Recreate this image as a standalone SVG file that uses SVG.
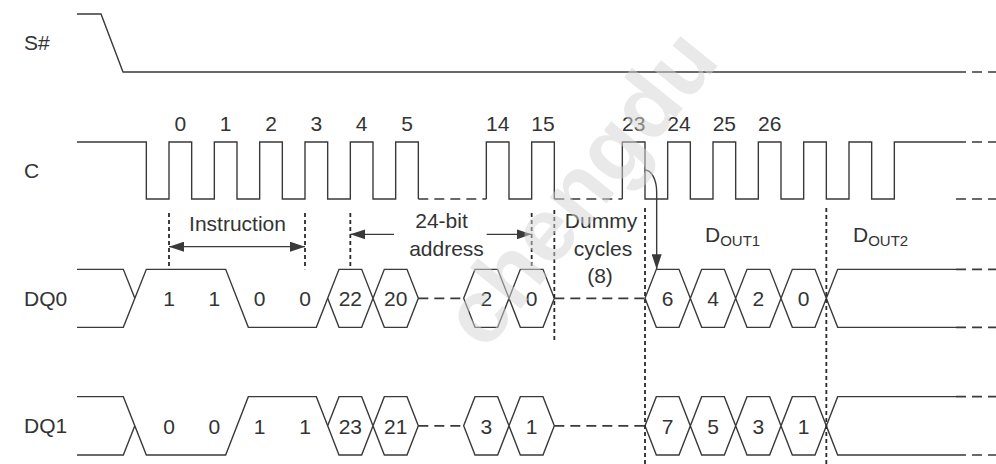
<svg xmlns="http://www.w3.org/2000/svg" width="996" height="464" viewBox="0 0 996 464">
<style>
.sig{fill:none;stroke:#3a3a3a;stroke-width:1.4;stroke-linejoin:miter}
.dsh{fill:none;stroke:#3a3a3a;stroke-width:1.6;stroke-dasharray:10 6}
.vd{fill:none;stroke:#2a2a2a;stroke-width:1.8;stroke-dasharray:4 3}
.arr{fill:none;stroke:#3a3a3a;stroke-width:1.4}
text{font-family:"Liberation Sans",Arial,sans-serif;font-size:21px;fill:#333}
.c{text-anchor:middle}
.sub{font-size:15px}
.wm{font-family:"Liberation Sans",Arial,sans-serif;font-weight:bold;font-size:90px;fill:#d4d4d4;fill-opacity:0.5;text-anchor:middle}
</style>
<defs>
<marker id="ah" viewBox="0 0 15 10" refX="15" refY="5" markerWidth="15" markerHeight="10" markerUnits="userSpaceOnUse" orient="auto-start-reverse">
<path d="M0,0 L15,5 L0,10 z" fill="#3a3a3a"/>
</marker>
</defs>

<g id="labels">
<text x="24" y="50">S#</text>
<text x="24" y="178">C</text>
<text x="24" y="305.5">DQ0</text>
<text x="24" y="433">DQ1</text>
</g>

<g id="S">
<path class="sig" d="M77,14 H101 L123,72 H956"/>
<path class="dsh" d="M956,72 H996"/>
</g>

<g id="C">
<path class="sig" d="M77,142 H146.33 V199 H169 V142 H191.67 V199 H214.33 V142 H237 V199 H259.67 V142 H282.33 V199 H305 V142 H327.67 V199 H350.33 V142 H373 V199 H395.67 V142 H418.33 V199"/>
<path class="dsh" d="M418.33,199 H486.33"/>
<path class="sig" d="M486.33,199 V142 H509 V199 H531.67 V142 H554.33 V199"/>
<path class="dsh" d="M554.33,199 H622.33"/>
<path class="sig" d="M622.33,199 V142 H645 V199 H667.67 V142 H690.33 V199 H713 V142 H735.67 V199 H758.33 V142 H781 V199 H803.67 V142 H826.33 V199 H849 V142 H871.67 V199 H894.33 V142 H956"/>
<path class="dsh" d="M956,142 H996 M956,199 H996"/>
<g class="c">
<text x="180.33" y="130.5">0</text>
<text x="225.67" y="130.5">1</text>
<text x="271" y="130.5">2</text>
<text x="316.33" y="130.5">3</text>
<text x="361.67" y="130.5">4</text>
<text x="407" y="130.5">5</text>
<text x="497.67" y="130.5">14</text>
<text x="543" y="130.5">15</text>
<text x="633.67" y="130.5">23</text>
<text x="679" y="130.5">24</text>
<text x="724.33" y="130.5">25</text>
<text x="769.67" y="130.5">26</text>
</g>
</g>

<g id="DQ0">
<path class="sig" d="M77,269.33 H123.33 L134.83,298.33 M77,327.33 H123.33 L146.33,269.33 H225.67 L248.33,327.33 H316.33 L327.67,298.33"/>
<path class="sig" d="M327.67,298.33 L339,269.33 H361.67 L384.33,327.33 H407 L418.33,298.33 L407,269.33 H384.33 L361.67,327.33 H339 Z"/>
<path class="dsh" d="M418.33,298.33 H463.67"/>
<path class="sig" d="M463.67,298.33 L475,269.33 H497.67 L520.33,327.33 H543 L554.33,298.33 L543,269.33 H520.33 L497.67,327.33 H475 Z"/>
<path class="dsh" d="M554.33,298.33 H645"/>
<path class="sig" d="M645,298.33 L656.33,269.33 H679 L701.67,327.33 H724.33 L747,269.33 H769.67 L792.33,327.33 H815 L837.67,269.33 H956 M645,298.33 L656.33,327.33 H679 L701.67,269.33 H724.33 L747,327.33 H769.67 L792.33,269.33 H815 L837.67,327.33 H956"/>
<path class="dsh" d="M956,269.33 H996 M956,327.33 H996"/>
<g class="c">
<text x="169" y="305.5">1</text>
<text x="214.33" y="305.5">1</text>
<text x="259.67" y="305.5">0</text>
<text x="305" y="305.5">0</text>
<text x="350.33" y="305.5">22</text>
<text x="395.67" y="305.5">20</text>
<text x="486.33" y="305.5">2</text>
<text x="531.67" y="305.5">0</text>
<text x="667.67" y="305.5">6</text>
<text x="713" y="305.5">4</text>
<text x="758.33" y="305.5">2</text>
<text x="803.67" y="305.5">0</text>
</g>
</g>

<g id="DQ1">
<path class="sig" d="M77,455 H123.33 L134.83,425.83 M77,396.67 H123.33 L146.33,455 H225.67 L248.33,396.67 H316.33 L327.67,425.83"/>
<path class="sig" d="M327.67,425.83 L339,396.67 H361.67 L384.33,455 H407 L418.33,425.83 L407,396.67 H384.33 L361.67,455 H339 Z"/>
<path class="dsh" d="M418.33,425.83 H463.67"/>
<path class="sig" d="M463.67,425.83 L475,396.67 H497.67 L520.33,455 H543 L554.33,425.83 L543,396.67 H520.33 L497.67,455 H475 Z"/>
<path class="dsh" d="M554.33,425.83 H645"/>
<path class="sig" d="M645,425.83 L656.33,396.67 H679 L701.67,455 H724.33 L747,396.67 H769.67 L792.33,455 H815 L837.67,396.67 H956 M645,425.83 L656.33,455 H679 L701.67,396.67 H724.33 L747,455 H769.67 L792.33,396.67 H815 L837.67,455 H956"/>
<path class="dsh" d="M956,396.67 H996 M956,455 H996"/>
<g class="c">
<text x="169" y="433.5">0</text>
<text x="214.33" y="433.5">0</text>
<text x="259.67" y="433.5">1</text>
<text x="305" y="433.5">1</text>
<text x="350.33" y="433.5">23</text>
<text x="395.67" y="433.5">21</text>
<text x="486.33" y="433.5">3</text>
<text x="531.67" y="433.5">1</text>
<text x="667.67" y="433.5">7</text>
<text x="713" y="433.5">5</text>
<text x="758.33" y="433.5">3</text>
<text x="803.67" y="433.5">1</text>
</g>
</g>

<g id="connectors">
<path class="vd" d="M169,213 V269.33 M305,213 V269.33 M350.33,213 V269.33 M531.67,213 V269.33 M554.33,210 V340 M645,208 V464 M826.33,208 V464"/>
<path class="arr" d="M169,246.67 H305" marker-start="url(#ah)" marker-end="url(#ah)"/>
<path class="arr" d="M394,234.33 H350.33" marker-end="url(#ah)"/>
<path class="arr" d="M486.67,234.33 H531.67" marker-end="url(#ah)"/>
<path class="arr" d="M645,170 A11.67,22 0 0 1 656.67,192 V269.33" marker-end="url(#ah)"/>
</g>

<g id="annotations">
<text class="c" x="237.5" y="231">Instruction</text>
<text class="c" x="441.5" y="228">24-bit</text>
<text class="c" x="446.5" y="256">address</text>
<text class="c" x="601" y="228">Dummy</text>
<text class="c" x="603" y="256">cycles</text>
<text class="c" x="600" y="283">(8)</text>
<text x="705" y="242">D<tspan class="sub" dy="4">OUT1</tspan></text>
<text x="853" y="242">D<tspan class="sub" dy="4">OUT2</tspan></text>
</g>

<text class="wm" x="580" y="218" transform="rotate(-51 580 188)">chengdu</text>
</svg>
